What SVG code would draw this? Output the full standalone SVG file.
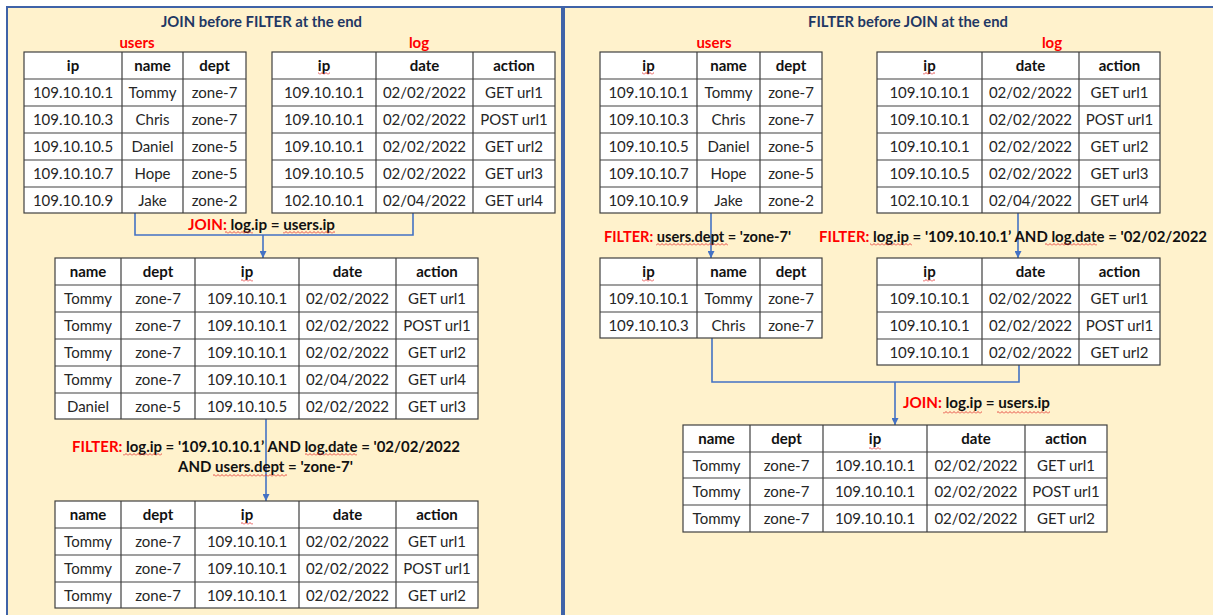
<svg xmlns="http://www.w3.org/2000/svg" width="1213" height="615" viewBox="0 0 1213 615">
<style>
.bg{fill:#FFF2CC;stroke:#3F63A8;stroke-width:2}
.tb{fill:#FFFFFF;stroke:#404040;stroke-width:1.2}
.gl{fill:none;stroke:#404040;stroke-width:1.2}
text{font-family:Lato,"Liberation Sans",sans-serif}
.c{font-size:15px;fill:#262626;text-anchor:middle}
.h{font-size:15px;font-weight:bold;fill:#111;text-anchor:middle}
.lb{font-size:14.5px;font-weight:bold;fill:#111}
.red{fill:#FF0000}
.tl{font-size:15px;font-weight:bold;fill:#1F3864}
.nm{font-size:15px;font-weight:bold;fill:#FF0000;text-anchor:middle}
.conn{fill:none;stroke:#4472C4;stroke-width:1.6}
.sq{fill:url(#squig)}
</style>
<defs>
<marker id="arr" viewBox="0 0 8 8" refX="8" refY="4" markerWidth="7" markerHeight="7" markerUnits="userSpaceOnUse" orient="auto">
<path d="M0,0 L8,4 L0,8 z" fill="#4472C4"/>
</marker>
<pattern id="squig" x="0" y="0" width="4" height="3" patternUnits="userSpaceOnUse">
<path d="M0,2.5 L2,0.5 L4,2.5" fill="none" stroke="#E02020" stroke-width="0.8"/>
</pattern>
</defs>

<g id="panels">
<rect class="bg" x="7" y="7" width="555" height="620"/>
<rect class="bg" x="564" y="7" width="660" height="620"/>
</g>

<g id="titles">
<text class="tl" x="161" y="27" textLength="201" lengthAdjust="spacingAndGlyphs">JOIN before FILTER at the end</text>
<text class="tl" x="808" y="27" textLength="200" lengthAdjust="spacingAndGlyphs">FILTER before JOIN at the end</text>
<text class="nm" x="137" y="48">users</text>
<text class="nm" x="419" y="48">log</text>
<text class="nm" x="714" y="48">users</text>
<text class="nm" x="1052" y="48">log</text>
</g>

<g id="connectors">
<path class="conn" d="M135,213 V235 H413 V213"/>
<path class="conn" d="M263,235 V258" marker-end="url(#arr)"/>
<path class="conn" d="M266,419 V501" marker-end="url(#arr)"/>
<path class="conn" d="M711,213 V258" marker-end="url(#arr)"/>
<path class="conn" d="M1018,213 V258" marker-end="url(#arr)"/>
<path class="conn" d="M712,338 V382 H1019 V365"/>
<path class="conn" d="M895,382 V425" marker-end="url(#arr)"/>
</g>

<g id="left-users">
<rect class="tb" x="24" y="52" width="222" height="161"/>
<path class="gl" d="M122,52V213M183,52V213M24,79H246M24,106H246M24,133H246M24,160H246M24,187H246"/>
<text class="h" x="73" y="71">ip</text><text class="h" x="152.5" y="71">name</text><text class="h" x="214.5" y="71">dept</text>
<text class="c" x="73" y="98">109.10.10.1</text><text class="c" x="152.5" y="98">Tommy</text><text class="c" x="214.5" y="98">zone-7</text>
<text class="c" x="73" y="125">109.10.10.3</text><text class="c" x="152.5" y="125">Chris</text><text class="c" x="214.5" y="125">zone-7</text>
<text class="c" x="73" y="152">109.10.10.5</text><text class="c" x="152.5" y="152">Daniel</text><text class="c" x="214.5" y="152">zone-5</text>
<text class="c" x="73" y="179">109.10.10.7</text><text class="c" x="152.5" y="179">Hope</text><text class="c" x="214.5" y="179">zone-5</text>
<text class="c" x="73" y="206">109.10.10.9</text><text class="c" x="152.5" y="206">Jake</text><text class="c" x="214.5" y="206">zone-2</text>
</g>

<g id="left-log">
<rect class="tb" x="272" y="52" width="283" height="161"/>
<path class="gl" d="M376,52V213M473,52V213M272,79H555M272,106H555M272,133H555M272,160H555M272,187H555"/>
<text class="h" x="324" y="71">ip</text><text class="h" x="424.5" y="71">date</text><text class="h" x="514" y="71">action</text>
<text class="c" x="324" y="98">109.10.10.1</text><text class="c" x="424.5" y="98">02/02/2022</text><text class="c" x="514" y="98">GET url1</text>
<text class="c" x="324" y="125">109.10.10.1</text><text class="c" x="424.5" y="125">02/02/2022</text><text class="c" x="514" y="125">POST url1</text>
<text class="c" x="324" y="152">109.10.10.1</text><text class="c" x="424.5" y="152">02/02/2022</text><text class="c" x="514" y="152">GET url2</text>
<text class="c" x="324" y="179">109.10.10.5</text><text class="c" x="424.5" y="179">02/02/2022</text><text class="c" x="514" y="179">GET url3</text>
<text class="c" x="324" y="206">102.10.10.1</text><text class="c" x="424.5" y="206">02/04/2022</text><text class="c" x="514" y="206">GET url4</text>
</g>

<g id="left-join-label">
<text class="lb" x="188" y="230" textLength="147" lengthAdjust="spacingAndGlyphs"><tspan class="red">JOIN:</tspan> log.ip = users.ip</text>
</g>

<g id="left-joined">
<rect class="tb" x="55" y="258" width="423" height="161"/>
<path class="gl" d="M121,258V419M195,258V419M299,258V419M396,258V419M55,285H478M55,312H478M55,339H478M55,366H478M55,393H478"/>
<text class="h" x="88" y="277">name</text><text class="h" x="158" y="277">dept</text><text class="h" x="247" y="277">ip</text><text class="h" x="347.5" y="277">date</text><text class="h" x="437" y="277">action</text>
<text class="c" x="88" y="304">Tommy</text><text class="c" x="158" y="304">zone-7</text><text class="c" x="247" y="304">109.10.10.1</text><text class="c" x="347.5" y="304">02/02/2022</text><text class="c" x="437" y="304">GET url1</text>
<text class="c" x="88" y="331">Tommy</text><text class="c" x="158" y="331">zone-7</text><text class="c" x="247" y="331">109.10.10.1</text><text class="c" x="347.5" y="331">02/02/2022</text><text class="c" x="437" y="331">POST url1</text>
<text class="c" x="88" y="358">Tommy</text><text class="c" x="158" y="358">zone-7</text><text class="c" x="247" y="358">109.10.10.1</text><text class="c" x="347.5" y="358">02/02/2022</text><text class="c" x="437" y="358">GET url2</text>
<text class="c" x="88" y="385">Tommy</text><text class="c" x="158" y="385">zone-7</text><text class="c" x="247" y="385">109.10.10.1</text><text class="c" x="347.5" y="385">02/04/2022</text><text class="c" x="437" y="385">GET url4</text>
<text class="c" x="88" y="412">Daniel</text><text class="c" x="158" y="412">zone-5</text><text class="c" x="247" y="412">109.10.10.5</text><text class="c" x="347.5" y="412">02/02/2022</text><text class="c" x="437" y="412">GET url3</text>
</g>

<g id="left-filter-label">
<text class="lb" x="72" y="452" textLength="388" lengthAdjust="spacingAndGlyphs"><tspan class="red">FILTER:</tspan> log.ip = '109.10.10.1’ AND log.date = '02/02/2022</text>
<text class="lb" x="178" y="472" textLength="175" lengthAdjust="spacingAndGlyphs">AND users.dept = 'zone-7'</text>
</g>

<g id="left-result">
<rect class="tb" x="55" y="501" width="423" height="107"/>
<path class="gl" d="M121,501V608M195,501V608M299,501V608M396,501V608M55,528H478M55,555H478M55,582H478"/>
<text class="h" x="88" y="520">name</text><text class="h" x="158" y="520">dept</text><text class="h" x="247" y="520">ip</text><text class="h" x="347.5" y="520">date</text><text class="h" x="437" y="520">action</text>
<text class="c" x="88" y="547">Tommy</text><text class="c" x="158" y="547">zone-7</text><text class="c" x="247" y="547">109.10.10.1</text><text class="c" x="347.5" y="547">02/02/2022</text><text class="c" x="437" y="547">GET url1</text>
<text class="c" x="88" y="574">Tommy</text><text class="c" x="158" y="574">zone-7</text><text class="c" x="247" y="574">109.10.10.1</text><text class="c" x="347.5" y="574">02/02/2022</text><text class="c" x="437" y="574">POST url1</text>
<text class="c" x="88" y="601">Tommy</text><text class="c" x="158" y="601">zone-7</text><text class="c" x="247" y="601">109.10.10.1</text><text class="c" x="347.5" y="601">02/02/2022</text><text class="c" x="437" y="601">GET url2</text>
</g>

<g id="right-users">
<rect class="tb" x="600" y="52" width="222" height="161"/>
<path class="gl" d="M697,52V213M760,52V213M600,79H822M600,106H822M600,133H822M600,160H822M600,187H822"/>
<text class="h" x="648.5" y="71">ip</text><text class="h" x="728.5" y="71">name</text><text class="h" x="791" y="71">dept</text>
<text class="c" x="648.5" y="98">109.10.10.1</text><text class="c" x="728.5" y="98">Tommy</text><text class="c" x="791" y="98">zone-7</text>
<text class="c" x="648.5" y="125">109.10.10.3</text><text class="c" x="728.5" y="125">Chris</text><text class="c" x="791" y="125">zone-7</text>
<text class="c" x="648.5" y="152">109.10.10.5</text><text class="c" x="728.5" y="152">Daniel</text><text class="c" x="791" y="152">zone-5</text>
<text class="c" x="648.5" y="179">109.10.10.7</text><text class="c" x="728.5" y="179">Hope</text><text class="c" x="791" y="179">zone-5</text>
<text class="c" x="648.5" y="206">109.10.10.9</text><text class="c" x="728.5" y="206">Jake</text><text class="c" x="791" y="206">zone-2</text>
</g>

<g id="right-log">
<rect class="tb" x="877" y="52" width="283" height="161"/>
<path class="gl" d="M982,52V213M1079,52V213M877,79H1160M877,106H1160M877,133H1160M877,160H1160M877,187H1160"/>
<text class="h" x="929.5" y="71">ip</text><text class="h" x="1030.5" y="71">date</text><text class="h" x="1119.5" y="71">action</text>
<text class="c" x="929.5" y="98">109.10.10.1</text><text class="c" x="1030.5" y="98">02/02/2022</text><text class="c" x="1119.5" y="98">GET url1</text>
<text class="c" x="929.5" y="125">109.10.10.1</text><text class="c" x="1030.5" y="125">02/02/2022</text><text class="c" x="1119.5" y="125">POST url1</text>
<text class="c" x="929.5" y="152">109.10.10.1</text><text class="c" x="1030.5" y="152">02/02/2022</text><text class="c" x="1119.5" y="152">GET url2</text>
<text class="c" x="929.5" y="179">109.10.10.5</text><text class="c" x="1030.5" y="179">02/02/2022</text><text class="c" x="1119.5" y="179">GET url3</text>
<text class="c" x="929.5" y="206">102.10.10.1</text><text class="c" x="1030.5" y="206">02/04/2022</text><text class="c" x="1119.5" y="206">GET url4</text>
</g>

<g id="right-filter-labels">
<text class="lb" x="604" y="242" textLength="187" lengthAdjust="spacingAndGlyphs"><tspan class="red">FILTER:</tspan> users.dept = 'zone-7'</text>
<text class="lb" x="819" y="242" textLength="388" lengthAdjust="spacingAndGlyphs"><tspan class="red">FILTER:</tspan> log.ip = '109.10.10.1’ AND log.date = '02/02/2022</text>
</g>

<g id="right-users-filtered">
<rect class="tb" x="600" y="258" width="222" height="80"/>
<path class="gl" d="M697,258V338M760,258V338M600,285H822M600,312H822"/>
<text class="h" x="648.5" y="277">ip</text><text class="h" x="728.5" y="277">name</text><text class="h" x="791" y="277">dept</text>
<text class="c" x="648.5" y="304">109.10.10.1</text><text class="c" x="728.5" y="304">Tommy</text><text class="c" x="791" y="304">zone-7</text>
<text class="c" x="648.5" y="331">109.10.10.3</text><text class="c" x="728.5" y="331">Chris</text><text class="c" x="791" y="331">zone-7</text>
</g>

<g id="right-log-filtered">
<rect class="tb" x="877" y="258" width="283" height="107"/>
<path class="gl" d="M982,258V365M1079,258V365M877,285H1160M877,312H1160M877,339H1160"/>
<text class="h" x="929.5" y="277">ip</text><text class="h" x="1030.5" y="277">date</text><text class="h" x="1119.5" y="277">action</text>
<text class="c" x="929.5" y="304">109.10.10.1</text><text class="c" x="1030.5" y="304">02/02/2022</text><text class="c" x="1119.5" y="304">GET url1</text>
<text class="c" x="929.5" y="331">109.10.10.1</text><text class="c" x="1030.5" y="331">02/02/2022</text><text class="c" x="1119.5" y="331">POST url1</text>
<text class="c" x="929.5" y="358">109.10.10.1</text><text class="c" x="1030.5" y="358">02/02/2022</text><text class="c" x="1119.5" y="358">GET url2</text>
</g>

<g id="right-join-label">
<text class="lb" x="903" y="408" textLength="147" lengthAdjust="spacingAndGlyphs"><tspan class="red">JOIN:</tspan> log.ip = users.ip</text>
</g>

<g id="right-result">
<rect class="tb" x="683" y="425" width="424" height="107"/>
<path class="gl" d="M750,425V532M823,425V532M927,425V532M1025,425V532M683,452H1107M683,478H1107M683,505H1107"/>
<text class="h" x="716.5" y="444">name</text><text class="h" x="786.5" y="444">dept</text><text class="h" x="875" y="444">ip</text><text class="h" x="976" y="444">date</text><text class="h" x="1066" y="444">action</text>
<text class="c" x="716.5" y="471">Tommy</text><text class="c" x="786.5" y="471">zone-7</text><text class="c" x="875" y="471">109.10.10.1</text><text class="c" x="976" y="471">02/02/2022</text><text class="c" x="1066" y="471">GET url1</text>
<text class="c" x="716.5" y="497">Tommy</text><text class="c" x="786.5" y="497">zone-7</text><text class="c" x="875" y="497">109.10.10.1</text><text class="c" x="976" y="497">02/02/2022</text><text class="c" x="1066" y="497">POST url1</text>
<text class="c" x="716.5" y="524">Tommy</text><text class="c" x="786.5" y="524">zone-7</text><text class="c" x="875" y="524">109.10.10.1</text><text class="c" x="976" y="524">02/02/2022</text><text class="c" x="1066" y="524">GET url2</text>
</g>

<g id="spellcheck-marks">
<rect class="sq" x="318" y="72" width="12" height="3"/>
<rect class="sq" x="241" y="279" width="12" height="3"/>
<rect class="sq" x="241" y="522" width="12" height="3"/>
<rect class="sq" x="642" y="72" width="12" height="3"/>
<rect class="sq" x="923" y="72" width="12" height="3"/>
<rect class="sq" x="642" y="279" width="12" height="3"/>
<rect class="sq" x="923" y="279" width="12" height="3"/>
<rect class="sq" x="869" y="447" width="12" height="3"/>
<rect class="sq" x="225" y="231" width="28" height="3"/>
<rect class="sq" x="283" y="231" width="52" height="3"/>
<rect class="sq" x="123" y="453" width="39" height="3"/>
<rect class="sq" x="305" y="453" width="52" height="3"/>
<rect class="sq" x="213" y="474" width="74" height="3"/>
<rect class="sq" x="656" y="243" width="72" height="3"/>
<rect class="sq" x="870" y="243" width="42" height="3"/>
<rect class="sq" x="1045" y="243" width="52" height="3"/>
<rect class="sq" x="943" y="411" width="39" height="3"/>
<rect class="sq" x="997" y="411" width="53" height="3"/>
</g>
</svg>
